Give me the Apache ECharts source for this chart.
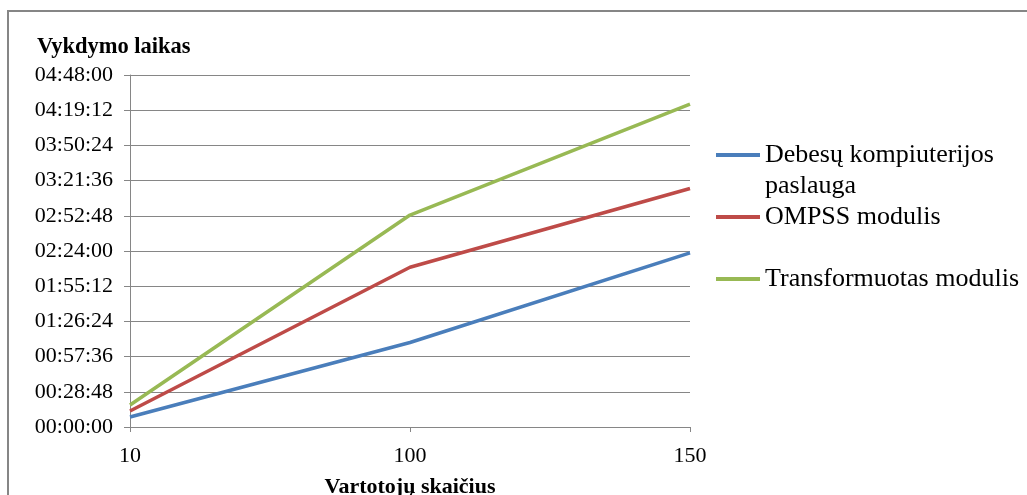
<!DOCTYPE html>
<html>
<head>
<meta charset="utf-8">
<script src="https://cdn.jsdelivr.net/npm/echarts@6/dist/echarts.min.js"></script>
<style>html,body{margin:0;padding:0;background:#fff}#c{width:1027px;height:495px}</style>
</head>
<body>
<div id="c"></div>
<script>
// Data (values in seconds)
const categories = ['10', '100', '150'];
const seriesNames = ['Debesų kompiuterijos paslauga', 'OMPSS modulis', 'Transformuotas modulis'];
const debesu = [490, 4150, 8545];
const ompss = [785, 7840, 11710];
const transform = [1080, 10405, 15850];
const yMin = 0, yMax = 17280, yStep = 1728;

const FONT = '"Liberation Serif", "Times New Roman", serif';
const colors = ['#4A7EBB', '#BE4B48', '#98B954'];

function fmt(v) {
  v = Math.round(v);
  const h = Math.floor(v / 3600), m = Math.floor((v % 3600) / 60), s = v % 60;
  const p = n => (n < 10 ? '0' : '') + n;
  return p(h) + ':' + p(m) + ':' + p(s);
}

const chart = echarts.init(document.getElementById('c'));
const legendBase = {
  orient: 'vertical', left: 716, padding: 0, itemWidth: 44, itemHeight: 4, icon: 'rect',
  textStyle: { fontFamily: FONT, fontSize: 26, color: '#000', lineHeight: 31 }
};
chart.setOption({
  animation: false,
  backgroundColor: '#fff',
  title: {
    text: 'Vykdymo laikas', left: 37, top: 36, padding: 0,
    textStyle: { fontFamily: FONT, fontSize: 22.5, fontWeight: 'bold', color: '#000' }
  },
  graphic: [{
    type: 'rect', silent: true,
    shape: { x: 8, y: 11, width: 1100, height: 600 },
    style: { fill: 'none', stroke: '#868686', lineWidth: 2 }
  }],
  grid: { left: 130, right: 337, top: 75, bottom: 68, outerBoundsMode: 'none', containLabel: false },
  legend: [
    Object.assign({}, legendBase, {
      top: 108.5, data: [seriesNames[0]],
      formatter: () => '\u00a0\nDebesų kompiuterijos\npaslauga'
    }),
    Object.assign({}, legendBase, { top: 201.5, data: [seriesNames[1]] }),
    Object.assign({}, legendBase, { top: 263.5, data: [seriesNames[2]] })
  ],
  xAxis: {
    type: 'category', data: categories, boundaryGap: false,
    name: 'Vartotojų skaičius', nameLocation: 'middle', nameGap: 49,
    nameTextStyle: { fontFamily: FONT, fontSize: 22, fontWeight: 'bold', color: '#000' },
    axisLine: { lineStyle: { color: '#868686', width: 1 } },
    axisTick: { show: true, length: 5, lineStyle: { color: '#868686' } },
    axisLabel: { fontFamily: FONT, fontSize: 22, color: '#000', margin: 18 },
    splitLine: { show: false }
  },
  yAxis: {
    type: 'value', min: yMin, max: yMax, interval: yStep,
    axisLine: { show: true, lineStyle: { color: '#868686', width: 1 } },
    axisTick: { show: true, length: 6, lineStyle: { color: '#868686' } },
    axisLabel: { fontFamily: FONT, fontSize: 22, color: '#000', margin: 17, formatter: fmt },
    splitLine: { show: true, lineStyle: { color: '#868686', width: 1 } }
  },
  series: [
    { name: seriesNames[0], type: 'line', data: debesu },
    { name: seriesNames[1], type: 'line', data: ompss },
    { name: seriesNames[2], type: 'line', data: transform }
  ].map((s, i) => Object.assign(s, {
    symbol: 'none', color: colors[i],
    lineStyle: { color: colors[i], width: 3.5 }
  }))
});
</script>
</body>
</html>
